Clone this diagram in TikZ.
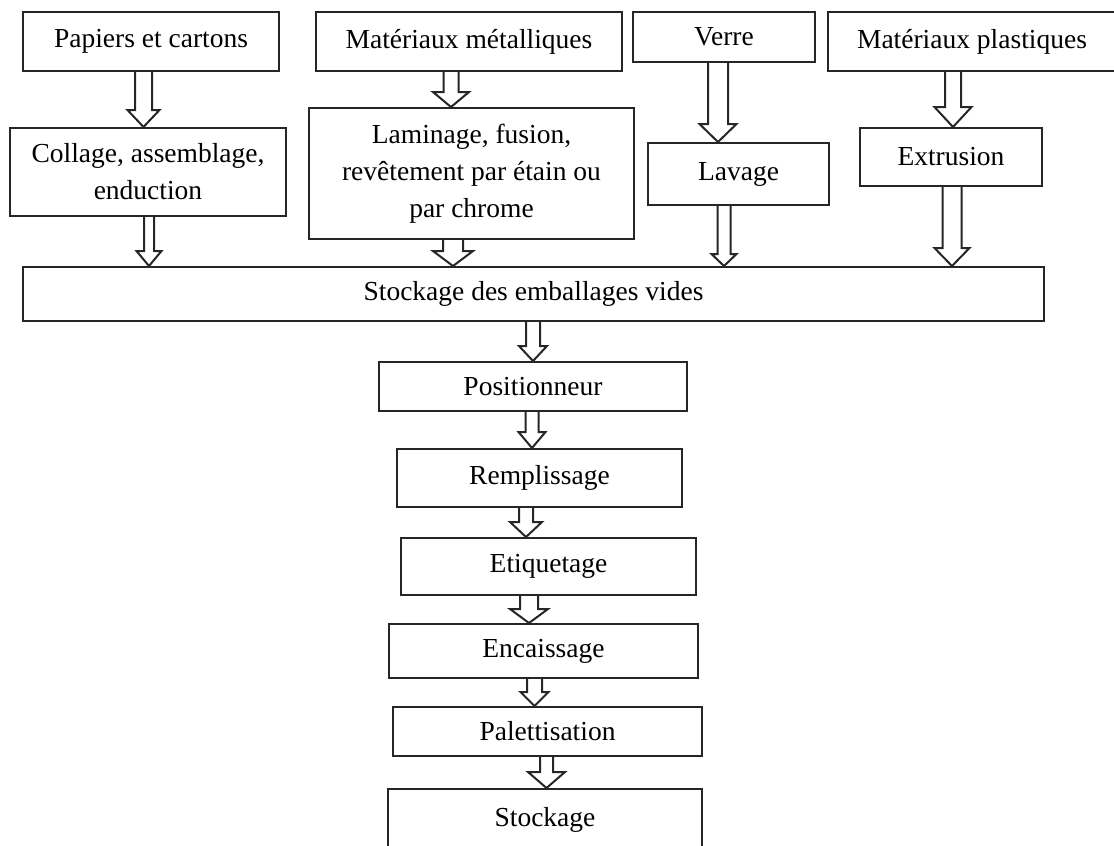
\documentclass[tikz,border=0pt]{standalone}
\usepackage{fontspec}
\setmainfont{Liberation Serif}
\usetikzlibrary{calc}
\newcommand{\blockarr}[6]{%
  \draw[arr] let \p1=(#1.south), \p2=(#2.north) in
    (#3pt-#4pt,\y1) -- (#3pt-#4pt,\y2+#6pt) -- (#3pt-#5pt,\y2+#6pt) -- (#3pt,\y2)
    -- (#3pt+#5pt,\y2+#6pt) -- (#3pt+#4pt,\y2+#6pt) -- (#3pt+#4pt,\y1);%
}
\begin{document}
\begin{tikzpicture}[x=1pt,y=-1pt,
  box/.style={draw=black!85, line width=2pt, inner sep=0pt, align=center,
    font=\fontsize{27.5}{37}\selectfont},
  arr/.style={draw=black!85, line width=2pt, line join=miter}]
\useasboundingbox (0,0) rectangle (1114,846);
% sources
\node[box, minimum width=256pt, minimum height=59pt] (pap) at (151,41.5) {Papiers et cartons};
\node[box, minimum width=306pt, minimum height=59pt] (met) at (469,41.5) {Matériaux métalliques};
\node[box, minimum width=182pt, minimum height=50pt] (ver) at (724,37) {Verre};
\node[box, minimum width=288pt, minimum height=59pt] (pla) at (972,41.5) {Matériaux plastiques};
% processes
\node[box, minimum width=276pt, minimum height=88pt] (col) at (148,172) {Collage, assemblage,\\enduction};
\node[box, minimum width=325pt, minimum height=131pt] (lam) at (471.5,173.5) {Laminage, fusion,\\revêtement par étain ou\\par chrome};
\node[box, minimum width=181pt, minimum height=62pt] (lav) at (738.5,174) {Lavage};
\node[box, minimum width=182pt, minimum height=58pt] (ext) at (951,157) {Extrusion};
% main line
\node[box, minimum width=1021pt, minimum height=54pt] (sev) at (533.5,294) {Stockage des emballages vides};
\node[box, minimum width=308pt, minimum height=49pt] (pos) at (533,386.5) {Positionneur};
\node[box, minimum width=285pt, minimum height=58pt] (rem) at (539.5,478) {Remplissage};
\node[box, minimum width=295pt, minimum height=57pt] (eti) at (548.5,566.5) {Etiquetage};
\node[box, minimum width=309pt, minimum height=54pt] (enc) at (543.5,651) {Encaissage};
\node[box, minimum width=309pt, minimum height=49pt] (pal) at (547.5,731.5) {Palettisation};
\node[box, minimum width=314pt, minimum height=61pt] (sto) at (545,819.5) {Stockage};
% arrows
\blockarr{pap}{col}{143.5}{8.5}{16}{17}
\blockarr{met}{lam}{451}{7.5}{18}{15}
\blockarr{ver}{lav}{718}{10}{18.5}{18}
\blockarr{pla}{ext}{953}{8}{18.5}{20}
\blockarr{col}{sev}{149}{5}{12.5}{15}
\blockarr{lam}{sev}{453}{10}{20}{15}
\blockarr{lav}{sev}{724}{6.5}{12.5}{12}
\blockarr{ext}{sev}{952}{9.5}{17.5}{18}
\blockarr{sev}{pos}{533}{7}{14}{15}
\blockarr{pos}{rem}{532}{6.5}{13.5}{16}
\blockarr{rem}{eti}{526}{7}{16}{15}
\blockarr{eti}{enc}{529}{9}{19}{14}
\blockarr{enc}{pal}{534.5}{7.5}{14}{14}
\blockarr{pal}{sto}{546.5}{6.5}{18.5}{16}
\end{tikzpicture}
\end{document}
